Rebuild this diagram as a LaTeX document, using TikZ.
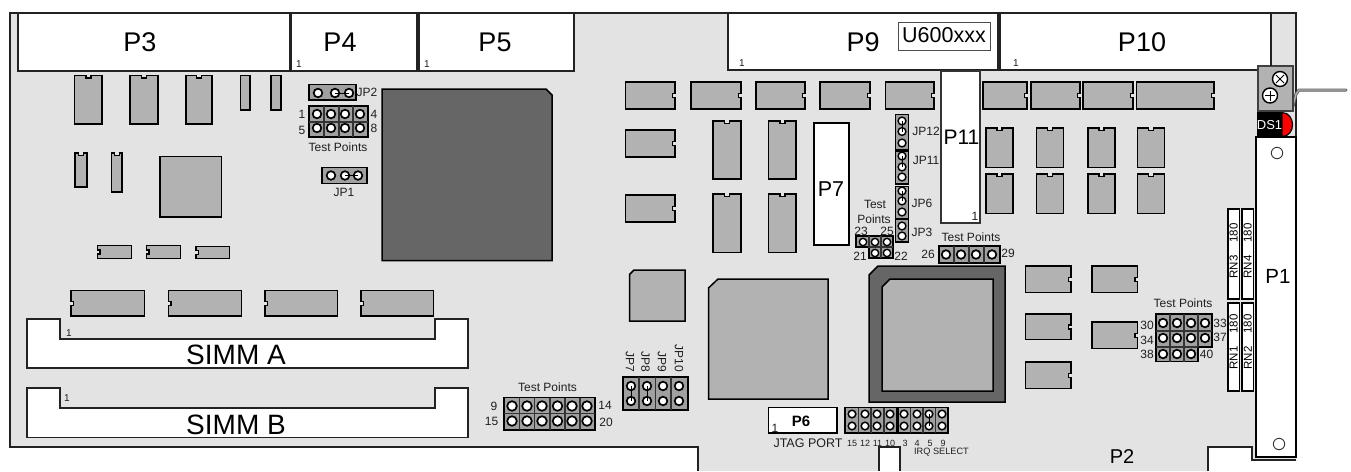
\documentclass[tikz,border=0pt]{standalone}
\usepackage{fontspec}
\setmainfont{Liberation Sans}
\definecolor{board}{HTML}{E3E3E3}
\definecolor{chipc}{HTML}{B2B2B2}
\definecolor{darkc}{HTML}{666666}
\definecolor{cellc}{HTML}{A0A0A0}
\definecolor{inkc}{HTML}{222222}
\newcounter{lbl}
\tikzset{
  chipbox/.style={fill=chipc,draw=black,line width=1.5pt,line join=miter},
  whitebox/.style={fill=white,draw=inkc,line width=1.2pt},
  heavywhite/.style={fill=white,draw=black,line width=1.8pt},
  darkbox/.style={fill=darkc,draw=black,line width=1.5pt},
  pinhole/.style={fill=white,draw=black,line width=1.7pt},
  gridbox/.style={fill=cellc,draw=black,line width=1.7pt},
  griddiv/.style={draw=black!80,line width=1.2pt},
  jumper/.style={draw=black,line width=.8pt},
  lab/.style={inner sep=0pt,text=black!88},
}
% chips with a notch on the top, right or left side
\newcommand\chipT[4]{\draw[chipbox] (#1,#2) -- ({(#1+#3)/2-2.5},#2) -- ({(#1+#3)/2-2.5},#2+2.5) -- ({(#1+#3)/2+2.5},#2+2.5) -- ({(#1+#3)/2+2.5},#2) -- (#3,#2) -- (#3,#4) -- (#1,#4) -- cycle;}
\newcommand\chipR[4]{\draw[chipbox] (#1,#2) -- (#3,#2) -- (#3,{(#2+#4)/2-2}) -- (#3-2.5,{(#2+#4)/2-2}) -- (#3-2.5,{(#2+#4)/2+2}) -- (#3,{(#2+#4)/2+2}) -- (#3,#4) -- (#1,#4) -- cycle;}
\newcommand\chipL[4]{\draw[chipbox] (#1,#2) -- (#3,#2) -- (#3,#4) -- (#1,#4) -- (#1,{(#2+#4)/2+2}) -- (#1+2.5,{(#2+#4)/2+2}) -- (#1+2.5,{(#2+#4)/2-2}) -- (#1,{(#2+#4)/2-2}) -- cycle;}
% text: [size]{x}{y}{text}
\newcommand\tl[4][12]{\stepcounter{lbl}\node[lab,font=\fontsize{#1}{#1}\selectfont] (t\thelbl) at (#2,#3) {#4};}
\newcommand\biglab[3]{\stepcounter{lbl}\node[inner sep=0pt,text=black,font=\fontsize{#1}{#1}\selectfont] (t\thelbl) at #2 {#3};}
\newcommand\hole[2]{\draw[pinhole] (#1,#2) circle (4.3);}
\begin{document}
\begin{tikzpicture}[x=1pt,y=-1pt]
\path[use as bounding box] (0,0) rectangle (1351,471);
% board
\fill[board] (10,13) -- (1296,13) -- (1296,460) -- (1252,460) -- (1252,447) -- (1208,447) -- (1208,471) -- (698,471) -- (698,447) -- (10,447) -- cycle;
\draw[inkc,line width=1.4pt] (698,471) -- (698,447) -- (10,447) -- (10,13) -- (1296,13) -- (1296,137);
\draw[inkc,line width=1.4pt] (1208,471) -- (1208,447) -- (1252,447) -- (1252,460) -- (1296,460);
% top connectors
\draw[whitebox] (18,13) rectangle (290,71);
\draw[whitebox] (291,13) rectangle (417,71);
\draw[whitebox] (419,13) rectangle (574,71);
\draw[whitebox] (728,13) rectangle (998,70);
\draw[whitebox] (1000,13) rectangle (1271,70);
\draw[draw=black!70,fill=white,line width=1pt] (898,22) rectangle (990,50);
% bottom white slot
\draw[whitebox] (879,471) -- (879,447) -- (900,447) -- (900,471);
% SIMM sockets
\draw[whitebox] (27,319) -- (60,319) -- (60,339) -- (435,339) -- (435,319) -- (468,319) -- (468,368) -- (27,368) -- cycle;
\draw[whitebox] (27,388) -- (60,388) -- (60,408) -- (435,408) -- (435,388) -- (468,388) -- (468,437.5) -- (27,437.5) -- cycle;
% left chips
\chipT{74.5}{75.5}{102}{124} \chipT{130}{75.5}{158}{124} \chipT{186}{75.5}{212}{124}
\draw[chipbox] (240.5,75.5) rectangle (250,110);
\draw[chipbox] (271,75.5) rectangle (281,110);
\chipT{75}{153}{87}{187} \chipT{111.5}{153}{122}{192}
\draw[chipbox] (160,156.5) rectangle (221.5,217);
\chipL{97.5}{245.5}{131.5}{258.5} \chipL{146.5}{245.5}{180.5}{258.5} \chipL{196}{246.5}{229.5}{258.5}
\chipL{71}{290.5}{144.5}{316} \chipL{168.5}{290.5}{241.5}{316} \chipL{265}{290.5}{337.5}{316} \chipL{361}{290.5}{433.5}{316}
% large dark chip
\draw[darkbox] (382,89) -- (546,89) -- (552,95) -- (552,260.5) -- (382,260.5) -- cycle;
% JP2, test points 1-8, JP1
\draw[gridbox] (309,84.5) rectangle (356,100);
\foreach \x in {318,335,349} {\hole{\x}{93}}
\draw[jumper] (335,93) -- (349,93);
\draw[gridbox] (309,106) rectangle (368,137);
\draw[griddiv] (309,122) -- (368,122) (324,106) -- (324,137) (339,106) -- (339,137) (353,106) -- (353,137);
\foreach \y in {114,128} \foreach \x in {317,331,345,360} {\hole{\x}{\y}}
\draw[gridbox] (322,167.5) rectangle (367,183.5);
\foreach \x in {331,345,358} {\hole{\x}{175.5}}
\draw[jumper] (345,175.5) -- (358,175.5);
% middle chips row
\chipR{625.5}{82}{675}{109} \chipR{691}{82}{741}{109} \chipR{756}{82}{805}{109} \chipR{820}{82}{870}{109} \chipR{885.5}{82}{934}{109}
\chipR{625.5}{130}{675}{157} \chipR{625.5}{195}{675}{222}
\chipT{713}{121}{741}{179} \chipT{768.5}{121}{796}{179} \chipT{713}{194}{741}{252.5} \chipT{768.5}{194}{796}{252.5}
\draw[heavywhite] (814,123) rectangle (849,245);
\draw[draw=black!80,fill=white,line width=1.2pt] (941,71) rectangle (980,223);
\chipR{983}{82}{1027}{109} \chipR{1031}{82}{1080}{109} \chipR{1083}{82}{1133}{109} \chipR{1136.5}{82}{1214}{109}
\foreach \x in {986,1036.5,1088,1137.5} {
  \chipT{\x}{128}{\x+27}{167.5}
  \chipT{\x}{174}{\x+27}{213.5}
}
% JP12, JP11, JP6, JP3
\draw[gridbox] (895.5,114.5) rectangle (908.5,150);
\draw[gridbox] (895.5,151) rectangle (908.5,184);
\draw[gridbox] (895.5,186.5) rectangle (908.5,219);
\draw[gridbox] (895.5,219) rectangle (908.5,242);
\foreach \y in {121,131.5,143,156,167,177,191,201,212,226,236} {\draw[pinhole,line width=1.4pt] (902,\y) circle (3.9);}
\draw[jumper] (902,121) -- (902,131.5) (902,156) -- (902,167) (902,191) -- (902,201);
% test points 21-25
\draw[gridbox] (856,236) -- (893,236) -- (893,258) -- (869,258) -- (869,247) -- (856,247) -- cycle;
\draw[griddiv] (869,236) -- (869,247) -- (893,247) (881,236) -- (881,258);
\foreach \x/\y in {863/242,875/242,887/242,875/253,887/253} {\draw[pinhole,line width=1.4pt] (\x,\y) circle (3.7);}
% test points 26-29
\draw[gridbox] (939,246) rectangle (1000,263);
\draw[griddiv] (954,246) -- (954,263) (969,246) -- (969,263) (984,246) -- (984,263);
\foreach \x in {946,961,976,992} {\hole{\x}{254.5}}
% square and big chips
\draw[chipbox] (634,270) -- (685,270) -- (685,321) -- (629.5,321) -- (629.5,274.5) -- cycle;
\draw[chipbox] (718,279) -- (828,279) -- (828,399) -- (708.5,399) -- (708.5,288) -- cycle;
\draw[darkbox] (878,266) -- (1005,266) -- (1005,402) -- (869,402) -- (869,275) -- cycle;
\draw[chipbox] (890,279) -- (993,279) -- (993,391) -- (882,391) -- (882,287) -- cycle;
% JP7-JP10
\draw[gridbox] (623,377) rectangle (688,410);
\draw[griddiv] (639,377) -- (639,410) (655.5,377) -- (655.5,410) (671,377) -- (671,410);
\foreach \x in {631,647,663,679} \foreach \y in {386,401} {\hole{\x}{\y}}
\draw[jumper] (631,386) -- (631,401) (647,386) -- (647,401);
% test points 9-20
\draw[gridbox] (504,397.5) rectangle (595,430);
\draw[griddiv] (504,413.5) -- (595,413.5);
\foreach \x in {519.5,534.5,550,565,580} {\draw[griddiv] (\x,397.5) -- (\x,430);}
\foreach \x in {512,527,542,557.5,572,587} \foreach \y in {406,421} {\draw[pinhole] (\x,\y) circle (4.8);}
% P6 and jumpers
\draw[heavywhite] (768.5,407.5) rectangle (837,433);
\foreach \a/\b/\cc/\dd in {845/897/858.5/871,898/948/910.5/923} {
  \draw[gridbox] (\a,407.5) rectangle (\b,433);
  \draw[griddiv] (\cc,407.5) -- (\cc,433) (\dd,407.5) -- (\dd,433);
}
\draw[griddiv] (884,407.5) -- (884,433) (935.5,407.5) -- (935.5,433);
\foreach \x in {852,865,877,890,904,917,929,942} \foreach \y in {414,426} {\draw[pinhole,line width=1.5pt] (\x,\y) circle (3.8);}
\draw[jumper] (929,414) -- (929,426);
% right chips
\chipR{1025.5}{266}{1071}{292.5} \chipR{1092}{266}{1137.5}{292.5} \chipR{1025.5}{314}{1071}{339.5} \chipR{1092}{322}{1137.5}{348.5} \chipR{1025.5}{362}{1071}{388.5}
% test points 30-40
\draw[gridbox] (1156,314) -- (1212,314) -- (1212,347) -- (1198,347) -- (1198,361.5) -- (1156,361.5) -- cycle;
\draw[griddiv] (1156,331) -- (1212,331) (1156,347) -- (1198,347) (1170,314) -- (1170,361.5) (1184,314) -- (1184,361.5) (1198,314) -- (1198,347);
\foreach \y in {323,338} \foreach \x in {1163,1177,1191,1205} {\hole{\x}{\y}}
\foreach \x in {1163,1177,1191} {\hole{\x}{354}}
% resistor networks
\foreach \x in {1228,1242} {
  \draw[heavywhite,line width=1.4pt] (\x,209) rectangle (\x+11.5,299);
  \draw[heavywhite,line width=1.4pt] (\x,303) rectangle (\x+11.5,391);
}
% P1
\draw[heavywhite] (1256,137) rectangle (1296,457);
\draw[draw=black!80,fill=white,line width=.9pt] (1277,153) circle (5.7);
\draw[draw=black!80,fill=white,line width=.9pt] (1279,444) circle (5.7);
% bracket, screws, wire, LED
\draw[draw=black!65,line width=3pt,line cap=round,line join=round] (1288,110) -- (1293,106) -- (1296,94) -- (1299,90) -- (1346,90);
\draw[draw=chipc,line width=1.3pt,line cap=round,line join=round] (1288,110) -- (1293,106) -- (1296,94) -- (1299,90) -- (1346,90);
\draw[fill=chipc,draw=black!75,line width=1.2pt] (1258,66) rectangle (1293,111);
\draw[inkc,line width=1.2pt] (1271,13) -- (1271,66);
\draw[fill=white,draw=black,line width=1.4pt] (1280,79) circle (7.5);
\draw[black,line width=.9pt] (1276,75) -- (1284,83) (1276,83) -- (1284,75);
\draw[fill=white,draw=black,line width=1.4pt] (1270,95.5) circle (7.5);
\draw[black,line width=.9pt] (1265,95.5) -- (1275,95.5) (1270,90.5) -- (1270,100.5);
\fill[black] (1257,112) rectangle (1282,137);
\draw[fill=red,draw=black,line width=1.2pt] (1282,112.5) .. controls (1296,113) and (1296,136.5) .. (1282,136.5) -- cycle;
\node[inner sep=0pt,text=white,font=\fontsize{13}{13}\selectfont] (ds) at (1269.5,125.5) {DS1};
% large labels
\biglab{27}{(140,42)}{P3} \biglab{27}{(340,42)}{P4} \biglab{27}{(495,42)}{P5} \biglab{27}{(863,42)}{P9}
\biglab{21.5}{(944,35)}{U600xxx} \biglab{27}{(1142,42)}{P10}
\biglab{21.5}{(831,189)}{P7} \biglab{21}{(961.5,137)}{P11} \biglab{20.5}{(1278,276)}{P1}
\biglab{28}{(236,355)}{SIMM A} \biglab{28}{(236,425)}{SIMM B} \biglab{20}{(1122,457)}{P2}
% pin 1 marks
\tl[10]{299}{64}{1} \tl[10]{427}{64}{1} \tl[10]{742}{63.5}{1} \tl[10]{1016}{63.5}{1}
\tl[10]{69}{333}{1} \tl[10]{67}{398.5}{1}
\tl[12]{975}{216.5}{1} \tl[12]{775}{428}{1}
% jumper labels
\tl{367}{92}{JP2} \tl{344}{192}{JP1}
\tl{926}{131.5}{JP12} \tl{926}{160.5}{JP11} \tl{922}{203.5}{JP6} \tl{922}{232.5}{JP3}
\foreach \x/\t in {630/JP7,645.5/JP8,662/JP9,679/JP10} {
  \node[lab,font=\fontsize{12}{12}\selectfont,rotate=-90,anchor=east] (jl\t) at (\x,372.5) {\t};
}
% test point labels
\tl{338}{147}{Test Points}
\tl{302}{114.5}{1} \tl{374}{114}{4} \tl{302}{130}{5} \tl{374}{128}{8}
\tl{875}{204}{Test} \tl{874}{219}{Points}
\tl{861}{231}{23} \tl{887}{231}{25} \tl{860}{256.5}{21} \tl{901}{256.5}{22}
\tl{971}{237}{Test Points} \tl{928}{254.5}{26} \tl{1008}{253}{29}
\tl{547.5}{387}{Test Points}
\tl{494}{406.5}{9} \tl{491.5}{421.5}{15} \tl{605}{405}{14} \tl{606}{422}{20}
\tl{1183}{303}{Test Points}
\tl{1147}{325}{30} \tl{1220}{323.5}{33} \tl{1147}{340}{34} \tl{1220}{337.5}{37} \tl{1147}{354}{38} \tl{1206.5}{354}{40}
% P6 labels
\node[lab,text=black,font=\fontsize{15}{15}\selectfont\bfseries] (p6) at (801,421) {P6};
\tl[12.5]{808}{443.5}{JTAG PORT}
\foreach \x/\t in {852/15,865/12,877.5/11,890/10,905/3,917/4,930/5,943/9} {
  \node[lab,font=\fontsize{9}{9}\selectfont] (ql\t) at (\x,443) {\t};
}
\tl[9.2]{941.5}{452.5}{IRQ SELECT}
% resistor network labels
\foreach \x/\n/\c in {1233.75/RN1/358,1247.75/RN2/358,1233.75/RN3/267,1247.75/RN4/267} {
  \node[lab,text=black,font=\fontsize{11.5}{11.5}\selectfont,rotate=90] (n\n) at (\x,\c) {\n};
  \node[lab,text=black,font=\fontsize{11.5}{11.5}\selectfont,rotate=90] (v\n) at (\x,\c-34) {180};
}
\end{tikzpicture}
\end{document}
